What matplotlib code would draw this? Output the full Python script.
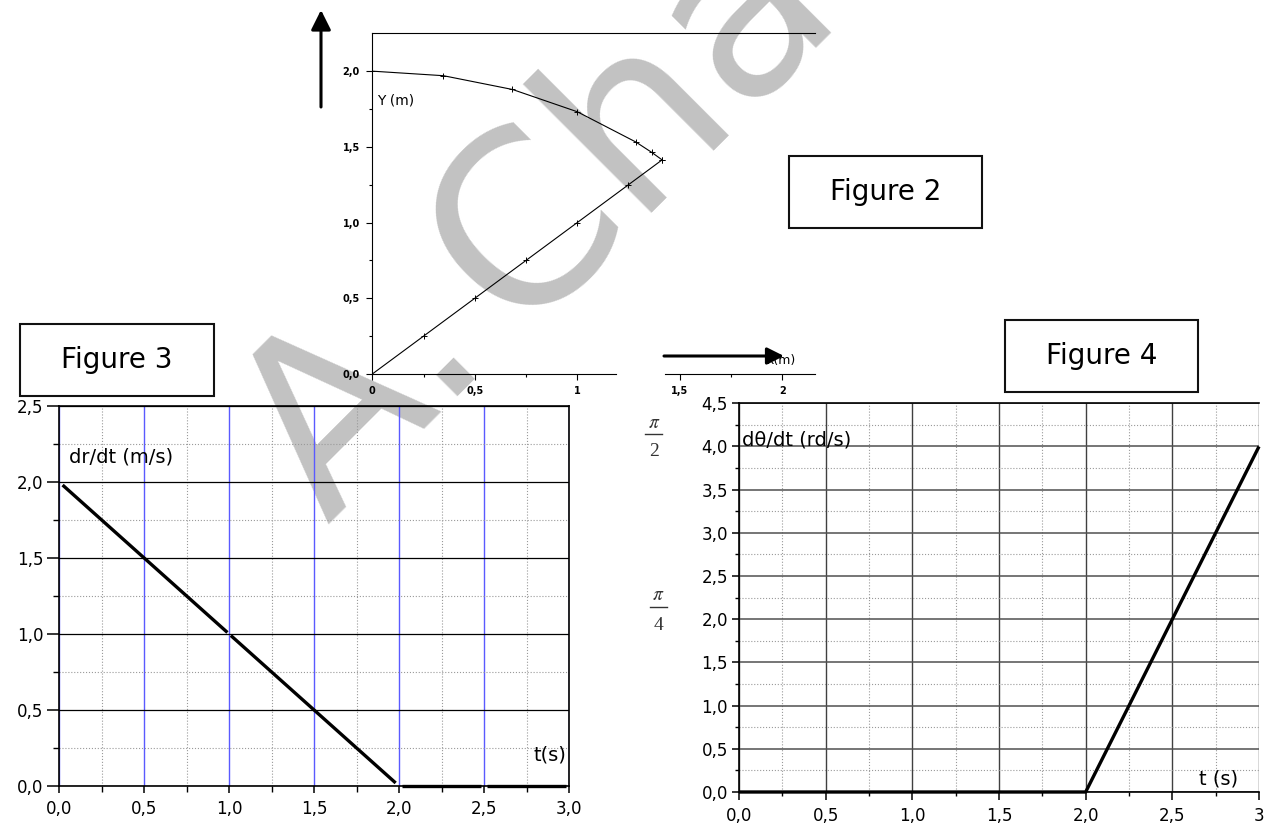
import matplotlib
matplotlib.use('Agg')
import matplotlib.pyplot as plt
from matplotlib.patches import Rectangle, FancyArrowPatch
from matplotlib.lines import Line2D

plt.rcParams['mathtext.fontset'] = 'stix'

# ---------------- data ----------------
# Figure 2 : trajectory y(x)
traj_arc_x = [0.0, 0.347, 0.684, 1.0, 1.286, 1.364, 1.414]
traj_arc_y = [2.0, 1.970, 1.879, 1.732, 1.532, 1.463, 1.414]
traj_line_x = [0.0, 0.25, 0.5, 0.75, 1.0, 1.25, 1.414]
traj_line_y = [0.0, 0.25, 0.5, 0.75, 1.0, 1.25, 1.414]
fig2_xticks = [0, 0.5, 1, 1.5, 2]
fig2_xlabels = ['0', '0,5', '1', '1,5', '2']
fig2_yticks = [0, 0.5, 1.0, 1.5, 2.0]
fig2_ylabels = ['0,0', '0,5', '1,0', '1,5', '2,0']

# Figure 3 : dr/dt (segments as drawn)
drdt_t = [[0.02, 0.99], [1.01, 1.98], [2.02, 2.48], [2.52, 2.98]]
drdt_v = [[1.98, 1.01], [0.99, 0.02], [0.0, 0.0], [0.0, 0.0]]
fig3_xticks = [0, 0.5, 1.0, 1.5, 2.0, 2.5, 3.0]
fig3_xlabels = ['0,0', '0,5', '1,0', '1,5', '2,0', '2,5', '3,0']
fig3_yticks = [0, 0.5, 1.0, 1.5, 2.0, 2.5]
fig3_ylabels = ['0,0', '0,5', '1,0', '1,5', '2,0', '2,5']

# Figure 4 : dtheta/dt
dtheta_t = [0.0, 2.0, 3.0]
dtheta_v = [0.0, 0.0, 4.0]
fig4_xticks = [0, 0.5, 1.0, 1.5, 2.0, 2.5, 3.0]
fig4_xlabels = ['0,0', '0,5', '1,0', '1,5', '2,0', '2,5', '3']
fig4_yticks = [0, 0.5, 1.0, 1.5, 2.0, 2.5, 3.0, 3.5, 4.0, 4.5]
fig4_ylabels = ['0,0', '0,5', '1,0', '1,5', '2,0', '2,5', '3,0', '3,5', '4,0', '4,5']

W, H = 1270, 827
fig = plt.figure(figsize=(W / 100, H / 100), dpi=100)


def fx(x):
    return x / W


def fy(y):
    return 1 - y / H


def axes_px(l, t, r, b):
    return fig.add_axes([l / W, 1 - b / H, (r - l) / W, (b - t) / H])


SANS = 'DejaVu Sans'

# ---------------- watermark ----------------
WM = '#c2c2c2'
fig.text(fx(327), fy(525), 'A.', rotation=45, fontsize=172, color=WM,
         family=SANS, ha='left', va='baseline', rotation_mode='anchor', zorder=-5)
fig.text(fx(516), fy(336), 'Chafa', rotation=45, fontsize=172, color=WM,
         family=SANS, ha='left', va='baseline', rotation_mode='anchor', zorder=-5)

# ---------------- Figure 2 ----------------
ax2 = axes_px(372.3, 33.3, 815, 374)
ax2.set_facecolor('none')
ax2.plot(traj_arc_x, traj_arc_y, color='black', lw=0.8, marker='+', ms=4, mew=0.7)
ax2.plot(traj_line_x, traj_line_y, color='black', lw=0.8, marker='+', ms=4, mew=0.7)
ax2.set_xlim(0, 2.16)
ax2.set_ylim(0, 2.25)
ax2.spines['right'].set_visible(False)
ax2.spines['bottom'].set_visible(False)
ax2.spines['top'].set_linewidth(0.8)
ax2.spines['left'].set_linewidth(0.8)
ax2.plot([0, 1.19], [0, 0], color='black', lw=0.8, clip_on=False)
ax2.plot([1.43, 2.16], [0, 0], color='black', lw=0.8, clip_on=False)
ax2.set_xticks(fig2_xticks)
ax2.set_xticklabels(fig2_xlabels)
ax2.set_xticks([0.25, 0.75, 1.75], minor=True)
ax2.set_yticks(fig2_yticks)
ax2.set_yticklabels(fig2_ylabels)
ax2.set_yticks([0.25, 0.75, 1.25, 1.75], minor=True)
ax2.tick_params(which='major', direction='out', length=4, width=0.8, pad=5,
                labelsize=7)
ax2.tick_params(which='minor', direction='out', length=2.5, width=0.8)
for lab in ax2.get_xticklabels() + ax2.get_yticklabels():
    lab.set_fontweight('bold')
    lab.set_family(SANS)
fig.text(fx(377), fy(100), 'Y (m)', fontsize=10, family=SANS, ha='left', va='center')
fig.text(fx(767), fy(360), 'x(m)', fontsize=9, family=SANS, ha='left', va='center')

# arrows
fig.patches.append(FancyArrowPatch((fx(321), fy(107)), (fx(321), fy(10)),
                                   transform=fig.transFigure, arrowstyle='-|>,head_length=0.6,head_width=0.3',
                                   mutation_scale=20, lw=2.2, color='black', shrinkA=0, shrinkB=0))
fig.patches.append(FancyArrowPatch((fx(664), fy(356)), (fx(784), fy(356)),
                                   transform=fig.transFigure, arrowstyle='-|>,head_length=0.6,head_width=0.3',
                                   mutation_scale=17, lw=2.2, color='black', shrinkA=0, shrinkB=0))

# boxes with titles


def label_box(l, t, r, b, text):
    fig.patches.append(Rectangle((fx(l), fy(b)), (r - l) / W, (b - t) / H,
                                 transform=fig.transFigure, fill=True, facecolor='white',
                                 edgecolor='#111111', lw=1.5, zorder=5))
    fig.text(fx((l + r) / 2), fy((t + b) / 2), text, fontsize=20, family=SANS,
             ha='center', va='center', zorder=6)


label_box(789, 156, 982, 228, 'Figure 2')
label_box(20, 324, 214, 396, 'Figure 3')
label_box(1005, 320, 1198, 392, 'Figure 4')

# ---------------- Figure 3 ----------------
ax3 = axes_px(59.2, 406, 569, 786)
ax3.set_facecolor('none')
ax3.set_xlim(0, 3.0)
ax3.set_ylim(0, 2.5)
ax3.set_xticks(fig3_xticks)
ax3.set_xticklabels(fig3_xlabels)
ax3.set_yticks(fig3_yticks)
ax3.set_yticklabels(fig3_ylabels)
ax3.set_xticks([0.25, 0.75, 1.25, 1.75, 2.25, 2.75], minor=True)
ax3.set_yticks([0.25, 0.75, 1.25, 1.75, 2.25], minor=True)
ax3.xaxis.grid(True, which='major', color='#5a5aff', lw=1.0)
ax3.yaxis.grid(True, which='major', color='black', lw=0.9)
ax3.xaxis.grid(True, which='minor', color='#9a9a9a', lw=0.8, ls=':')
ax3.yaxis.grid(True, which='minor', color='#9a9a9a', lw=0.8, ls=':')
ax3.set_axisbelow(True)
for s in ax3.spines.values():
    s.set_linewidth(1.2)
ax3.tick_params(axis='y', which='major', direction='out', length=9, width=1.1, pad=2.5, labelsize=12)
ax3.tick_params(axis='x', which='major', direction='out', length=5, width=1.1, pad=5, labelsize=12)
ax3.tick_params(which='minor', direction='out', length=4, width=1.0)
for lab in ax3.get_xticklabels() + ax3.get_yticklabels():
    lab.set_family(SANS)
for t, v in zip(drdt_t, drdt_v):
    ax3.plot(t, v, color='black', lw=2.4, solid_capstyle='butt', clip_on=False)
fig.text(fx(69), fy(457), 'dr/dt (m/s)', fontsize=14, family=SANS, ha='left', va='center')
fig.text(fx(534), fy(755), 't(s)', fontsize=14, family=SANS, ha='left', va='center')

# ---------------- Figure 4 ----------------
ax4 = axes_px(739, 403.3, 1259, 792)
ax4.set_facecolor('none')
ax4.set_xlim(0, 3.0)
ax4.set_ylim(0, 4.5)
ax4.set_xticks(fig4_xticks)
ax4.set_xticklabels(fig4_xlabels)
ax4.set_yticks(fig4_yticks)
ax4.set_yticklabels(fig4_ylabels)
ax4.set_xticks([0.25, 0.75, 1.25, 1.75, 2.25, 2.75], minor=True)
ax4.set_yticks([0.25, 0.75, 1.25, 1.75, 2.25, 2.75, 3.25, 3.75, 4.25], minor=True)
ax4.xaxis.grid(True, which='major', color='#404040', lw=1.0)
ax4.yaxis.grid(True, which='major', color='#505050', lw=1.1)
ax4.xaxis.grid(True, which='minor', color='#9a9a9a', lw=0.8, ls=':')
ax4.yaxis.grid(True, which='minor', color='#9a9a9a', lw=0.8, ls=':')
ax4.set_axisbelow(True)
ax4.spines['right'].set_visible(False)
for s in ['left', 'top', 'bottom']:
    ax4.spines[s].set_linewidth(1.2)
ax4.tick_params(axis='y', which='major', direction='out', length=5, width=1.1, pad=3, labelsize=12)
ax4.tick_params(axis='x', which='major', direction='out', length=5.5, width=1.1, pad=5, labelsize=12)
ax4.tick_params(which='minor', direction='out', length=3, width=1.0)
for lab in ax4.get_xticklabels() + ax4.get_yticklabels():
    lab.set_family(SANS)
ax4.plot(dtheta_t, dtheta_v, color='black', lw=2.4, solid_capstyle='butt', clip_on=False)
fig.text(fx(742), fy(446), 'd\u03b8/dt (rd/s)', fontsize=14, family=SANS, ha='left', va='baseline')
fig.text(fx(1199), fy(779), 't (s)', fontsize=14, family=SANS, ha='left', va='center')

# pi fractions


def pi_frac(cx, y_pi, y_bar, y_den, x0, x1, den):
    fig.text(fx(cx), fy(y_pi), r'$\pi$', fontsize=14, color='#333333', ha='center', va='center')
    fig.add_artist(Line2D([fx(x0), fx(x1)], [fy(y_bar), fy(y_bar)], transform=fig.transFigure,
                          color='#333333', lw=1.0))
    fig.text(fx(cx), fy(y_den), den, fontsize=14, family='Liberation Serif', color='#333333',
             ha='center', va='center')


pi_frac(654, 422, 434, 451, 645, 662, '2')
pi_frac(658, 595, 607, 625, 650, 667, '4')

fig.savefig('out.png', dpi=100)
